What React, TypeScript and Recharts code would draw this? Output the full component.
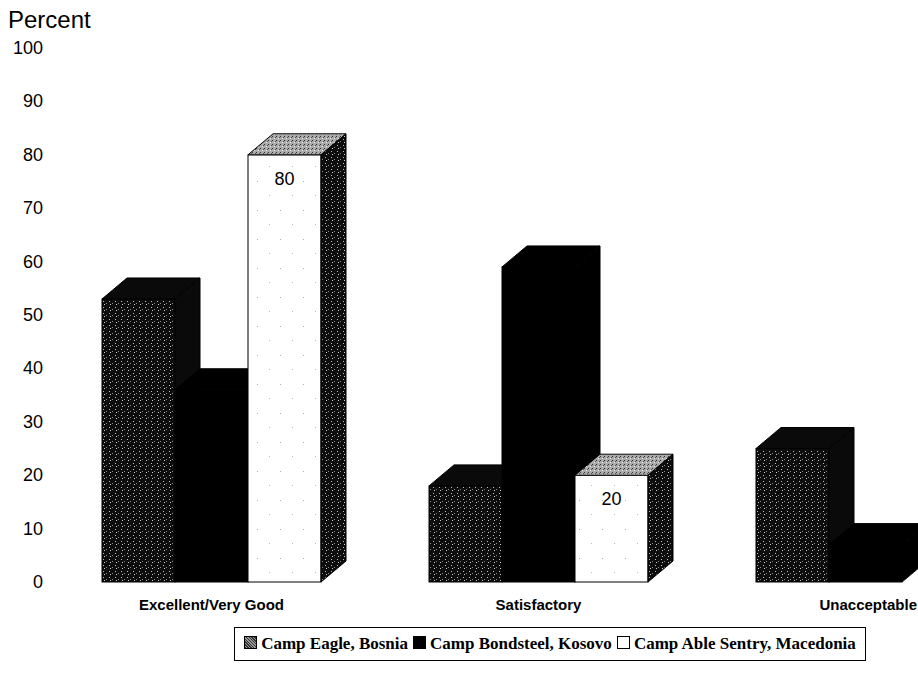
import { BarChart, Bar, XAxis, YAxis, LabelList } from 'recharts';

const categories = ['Excellent/Very Good', 'Satisfactory', 'Unacceptable'];
const campEagle = [53, 18, 25];
const campBondsteel = [36, 59, 7];
const campAbleSentry = [80, 20, 0];
const yTicks = [0, 10, 20, 30, 40, 50, 60, 70, 80, 90, 100];

const seriesNames = ['Camp Eagle, Bosnia', 'Camp Bondsteel, Kosovo', 'Camp Able Sentry, Macedonia'];

const data = categories.map((name, i) => ({
  name,
  eagle: campEagle[i],
  bondsteel: campBondsteel[i],
  able: campAbleSentry[i],
}));

const DX = 25;
const DY = 21;

type Faces = { front: string; top: string; side: string };

function make3DBar(faces: Faces) {
  return (props: any) => {
    const { x, y, width, height } = props;
    if (!height || height <= 0) return <g />;
    const top = `${x},${y} ${x + width},${y} ${x + width + DX},${y - DY} ${x + DX},${y - DY}`;
    const side = `${x + width},${y} ${x + width + DX},${y - DY} ${x + width + DX},${y + height - DY} ${x + width},${y + height}`;
    return (
      <g>
        <rect x={x} y={y} width={width} height={height} fill={faces.front} stroke="#000" strokeWidth={1} />
        <polygon points={top} fill={faces.top} stroke="#000" strokeWidth={1} />
        <polygon points={side} fill={faces.side} stroke="#000" strokeWidth={1} />
      </g>
    );
  };
}

const eagleShape = make3DBar({ front: 'url(#speckDark)', top: '#0a0a0a', side: '#0a0a0a' });
const bondShape = make3DBar({ front: '#000', top: '#000', side: '#000' });
const ableShape = make3DBar({ front: 'url(#speckWhite)', top: 'url(#speckGray)', side: 'url(#speckDark)' });

const XTick = (props: any) => {
  const { x, y, payload } = props;
  // the last label sits flush with the right edge of the page
  const last = payload.value === categories[categories.length - 1];
  return (
    <text
      x={last ? 917 : x}
      y={y + 28}
      textAnchor={last ? 'end' : 'middle'}
      fontFamily="'Liberation Sans', Arial, sans-serif"
      fontWeight="bold"
      fontSize={15}
      fill="#000"
    >
      {payload.value}
    </text>
  );
};

const YTick = (props: any) => {
  const { y, payload } = props;
  return (
    <text x={43} y={y} dy={6} textAnchor="end" fontFamily="'Liberation Sans', Arial, sans-serif" fontSize={18} fill="#000">
      {payload.value}
    </text>
  );
};

const ValueLabel = (props: any) => {
  const { x, y, width, value } = props;
  if (!value) return null;
  return (
    <text x={x + width / 2} y={y + 30} textAnchor="middle" fontFamily="'Liberation Sans', Arial, sans-serif" fontSize={18} fill="#000">
      {value}
    </text>
  );
};

const swatch = (bg: string, border = '#000') => (
  <span
    style={{
      display: 'inline-block',
      width: 11,
      height: 11,
      background: bg,
      border: `1px solid ${border}`,
      marginRight: 4,
      verticalAlign: 'middle',
      position: 'relative',
      top: -2,
    }}
  />
);

export default function App() {
  return (
    <div style={{ position: 'fixed', left: 0, top: 0, width: 918, height: 677, overflow: 'hidden', background: '#fff' }}>
      <div
        style={{
          position: 'absolute',
          left: 8,
          top: 6,
          fontFamily: "'Liberation Sans', Arial, sans-serif",
          fontSize: 24,
          color: '#000',
        }}
      >
        Percent
      </div>
      <BarChart
        width={1059}
        height={677}
        data={data}
        margin={{ top: 48, right: 30, left: 0, bottom: 0 }}
        barGap={0}
        barSize={73}
      >
        <defs>
          <pattern id="speckDark" width="6" height="6" patternUnits="userSpaceOnUse">
            <rect width="6" height="6" fill="#0d0d0d" />
            <rect x="1" y="1" width="1" height="1" fill="#bbb" />
            <rect x="4" y="3" width="1" height="1" fill="#888" />
            <rect x="2" y="4" width="1" height="1" fill="#ccc" />
          </pattern>
          <pattern id="speckGray" width="4" height="4" patternUnits="userSpaceOnUse">
            <rect width="4" height="4" fill="#aaa" />
            <rect x="0" y="0" width="1" height="1" fill="#333" />
            <rect x="2" y="2" width="1" height="1" fill="#eee" />
            <rect x="3" y="1" width="1" height="1" fill="#555" />
          </pattern>
          <pattern id="speckWhite" width="23" height="29" patternUnits="userSpaceOnUse">
            <rect width="23" height="29" fill="#fff" />
            <rect x="4" y="7" width="1" height="1" fill="#aaa" />
            <rect x="16" y="21" width="1" height="1" fill="#bbb" />
          </pattern>
        </defs>
        <XAxis
          dataKey="name"
          axisLine={false}
          tickLine={false}
          tickSize={0}
          tickMargin={0}
          height={95}
          tick={<XTick />}
          interval={0}
        />
        <YAxis
          domain={[0, 100]}
          ticks={yTicks}
          axisLine={false}
          tickLine={false}
          width={48}
          tick={<YTick />}
          interval={0}
        />
        <Bar dataKey="eagle" name={seriesNames[0]} shape={eagleShape} isAnimationActive={false} />
        <Bar dataKey="bondsteel" name={seriesNames[1]} shape={bondShape} isAnimationActive={false} />
        <Bar dataKey="able" name={seriesNames[2]} shape={ableShape} isAnimationActive={false}>
          <LabelList dataKey="able" content={<ValueLabel />} />
        </Bar>
      </BarChart>
      <div
        style={{
          position: 'absolute',
          left: 234,
          top: 627,
          width: 630,
          height: 32,
          border: '1px solid #000',
          display: 'flex',
          alignItems: 'center',
          justifyContent: 'center',
          fontFamily: "'Liberation Serif', 'Times New Roman', serif",
          fontWeight: 'bold',
          fontSize: 17,
          color: '#000',
          whiteSpace: 'nowrap',
        }}
      >
        {swatch('repeating-linear-gradient(45deg, #333 0 1px, #999 1px 2px)')}
        <span style={{ marginRight: 5 }}>{seriesNames[0]}</span>
        {swatch('#000')}
        <span style={{ marginRight: 5 }}>{seriesNames[1]}</span>
        {swatch('#fff')}
        <span>{seriesNames[2]}</span>
      </div>
    </div>
  );
}
